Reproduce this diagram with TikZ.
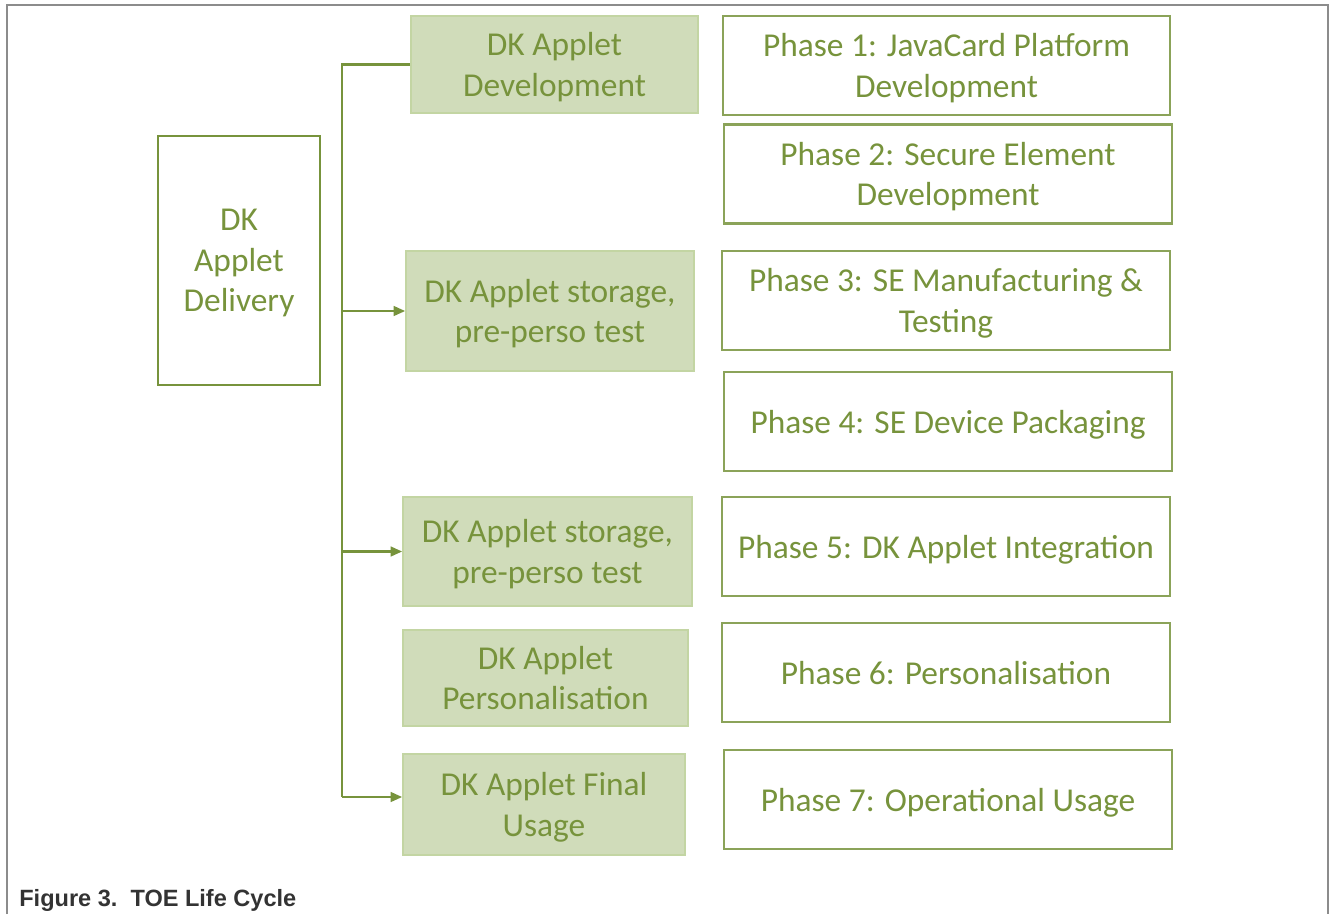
\documentclass[tikz,border=0pt]{standalone}
\usepackage{fontspec}
\setmainfont{Carlito}
\newfontfamily\capfont{Liberation Sans}
\usetikzlibrary{arrows.meta,positioning}

\definecolor{olive}{HTML}{77933C}
\definecolor{sage}{HTML}{D0DCBA}
\definecolor{sageline}{HTML}{C3D5A3}
\definecolor{frame}{HTML}{8C8C8C}

\tikzset{
	boxfont/.style={font=\fontsize{19}{23.2}\selectfont, text depth=0pt},
	stage/.style={draw=sageline, line width=1pt, fill=sage, text=olive, align=center, inner sep=0pt, boxfont},
	phase/.style={draw=olive!85, line width=1.2pt, text=olive, align=center, inner sep=0pt,
		minimum width=8.95cm, minimum height=1.98cm, boxfont},
	link/.style={draw=olive, line width=1.2pt},
	tip/.style={-{Triangle[length=6.5pt,width=5.5pt]}},
}

\begin{document}
\begin{tikzpicture}[x=0.02cm, y=-0.02cm]
		\useasboundingbox (0,0) rectangle (1333,914);
		\draw[frame, line width=1.1pt] (7,914) -- (7,5) -- (1328,5) -- (1328,914);

		\node[draw=olive, line width=1.1pt, text=olive, align=center, inner sep=0pt,
			minimum width=3.24cm, minimum height=4.98cm, boxfont]
			(delivery) at (239,260.5) {DK\\Applet\\Delivery};

		\node[stage, minimum width=5.74cm, minimum height=1.94cm] (dev) at (554.5,64.5) {DK Applet\\Development};
		\node[stage, minimum width=5.76cm, minimum height=2.4cm] (store1) at (550,311) {DK Applet storage,\\pre-perso test};
		\node[stage, minimum width=5.78cm, minimum height=2.18cm] (store2) at (547.5,551.5) {DK Applet storage,\\pre-perso test};
		\node[stage, minimum width=5.7cm, minimum height=1.92cm] (perso) at (545.5,678) {DK Applet\\Personalisation};
		\node[stage, minimum width=5.64cm, minimum height=2.02cm] (final) at (544,804.5) {DK Applet Final\\Usage};

		\node[phase] (p1) at (946.5,65.5) {Phase 1: JavaCard Platform\\Development};
		\node[phase] (p2) at (948,174) {Phase 2: Secure Element\\Development};
		\node[phase] (p3) at (946,300.5) {Phase 3: SE Manufacturing \&\\Testing};
		\node[phase] (p4) at (948,421.5) {Phase 4: SE Device Packaging};
		\node[phase] (p5) at (946,546.5) {Phase 5: DK Applet Integration};
		\node[phase] (p6) at (946,672.5) {Phase 6: Personalisation};
		\node[phase] (p7) at (948,799.5) {Phase 7: Operational Usage};

		% trunk from the development box down to the final usage branch
		\coordinate (top) at (342,64.5);
		\coordinate (bottom) at (342,797);
		\draw[link] (dev.west) -- (top) -- (bottom);
		\draw[link, tip] (top |- store1.west) -- (store1.west);
		\draw[link, tip] (top |- store2.west) -- (store2.west);
		\draw[link, tip] (bottom) -- (bottom -| final.west);

		\node[anchor=base west, inner sep=0pt, text=black!80, font=\capfont\bfseries\fontsize{13.4}{16}\selectfont]
			(caption) at (19,906) {Figure 3.\ \ TOE Life Cycle};
	\end{tikzpicture}
\end{document}
